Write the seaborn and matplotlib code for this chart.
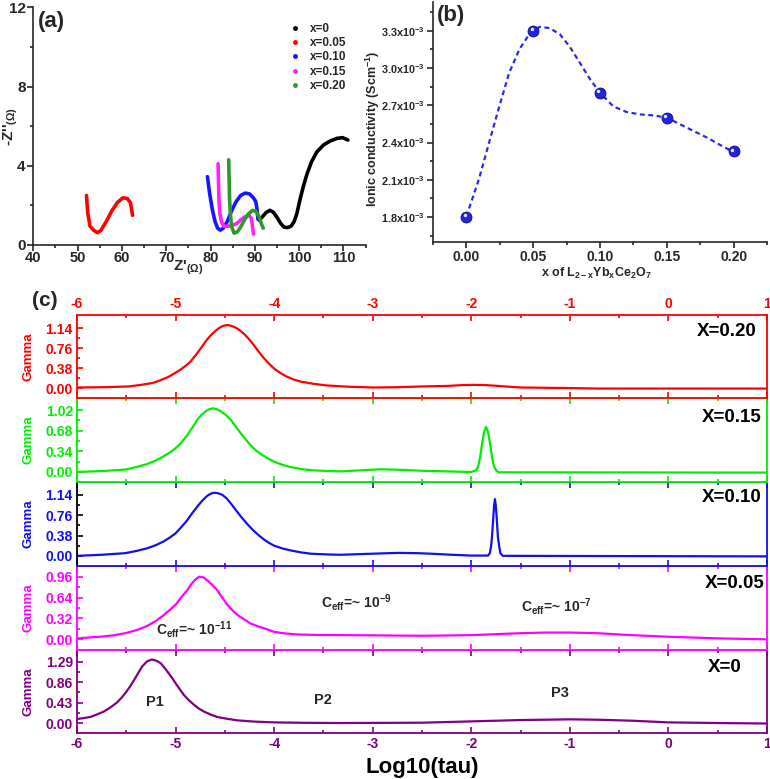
import numpy as np
import matplotlib
matplotlib.use("Agg")
import matplotlib.pyplot as plt
import matplotlib.transforms as mtransforms
from matplotlib.lines import Line2D
from matplotlib.ticker import MultipleLocator, FixedLocator, FuncFormatter
import seaborn as sns

# ── (a) Nyquist plots ─────────────────────────────────────────────────────────
nyq_labels = ["x=0", "x=0.05", "x=0.10", "x=0.15", "x=0.20"]
nyq_colors = ["black", "#ff0000", "#1515ff", "#ff22ff", "#2a9a2a"]

zre_000 = [91.0, 91.8, 92.6, 93.4, 94.2, 95.0, 95.8, 96.6, 97.4, 98.2, 98.9, 99.5, 100.2,
           101.0, 101.8, 102.8, 104.0, 105.5, 107.0, 108.5, 109.8, 110.5, 111.0]
zim_000 = [1.25, 1.45, 1.65, 1.75, 1.65, 1.4, 1.1, 0.9, 0.88, 0.95, 1.2, 1.6, 2.3,
           3.0, 3.6, 4.2, 4.7, 5.05, 5.25, 5.38, 5.42, 5.35, 5.3]
zre_005 = [52.0, 52.3, 52.8, 53.6, 54.5, 55.3, 56.5, 57.8, 59.0, 60.2, 61.2, 61.9, 62.2, 62.4]
zim_005 = [2.5, 1.6, 0.95, 0.75, 0.62, 0.75, 1.2, 1.75, 2.15, 2.38, 2.35, 2.15, 1.8, 1.5]
zre_010 = [79.3, 79.8, 80.4, 81.0, 81.6, 82.2, 82.9, 83.8, 84.8, 85.8, 86.8, 87.8, 88.8,
           89.6, 90.2, 90.5, 90.7]
zim_010 = [3.45, 2.6, 1.8, 1.2, 0.85, 0.75, 0.85, 1.2, 1.75, 2.2, 2.5, 2.62, 2.58,
           2.4, 2.2, 1.8, 1.3]
zre_015 = [81.7, 81.8, 81.9, 82.1, 82.5, 83.0, 84.0, 85.0, 86.0, 87.0, 88.0, 88.7, 89.2,
           89.4, 89.6, 89.7]
zim_015 = [4.1, 3.2, 2.3, 1.6, 1.15, 0.95, 0.95, 1.0, 1.1, 1.3, 1.45, 1.5, 1.35,
           1.05, 0.7, 0.55]
zre_020 = [84.1, 84.2, 84.3, 84.5, 84.8, 85.3, 86.0, 86.8, 87.6, 88.5, 89.5, 90.3, 91.0,
           91.5, 91.9]
zim_020 = [4.3, 3.3, 2.3, 1.5, 0.9, 0.6, 0.65, 0.9, 1.25, 1.55, 1.75, 1.7, 1.4,
           1.05, 0.85]

# ── (b) ionic conductivity ───────────────────────────────────────────────────
x_dop = [0.00, 0.05, 0.10, 0.15, 0.20]
sigma = [1.80e-3, 3.30e-3, 2.80e-3, 2.60e-3, 2.33e-3]
fit_x = [0.002, 0.0095, 0.017, 0.0246, 0.032, 0.0397, 0.047, 0.0548, 0.0623, 0.070,
         0.0774, 0.085, 0.0925, 0.100, 0.110, 0.120, 0.130, 0.140, 0.150, 0.160,
         0.170, 0.180, 0.190, 0.197]
fit_y = [1.87e-3, 2.11e-3, 2.40e-3, 2.69e-3, 2.96e-3, 3.15e-3, 3.27e-3, 3.33e-3, 3.32e-3,
         3.27e-3, 3.17e-3, 3.04e-3, 2.91e-3, 2.80e-3, 2.69e-3, 2.645e-3, 2.626e-3,
         2.618e-3, 2.60e-3, 2.546e-3, 2.493e-3, 2.44e-3, 2.38e-3, 2.34e-3]
sig_ticks = [1.8e-3, 2.1e-3, 2.4e-3, 2.7e-3, 3.0e-3, 3.3e-3]

# ── (c) DRT curves ────────────────────────────────────────────────────────────
tau_020 = [-6.0, -5.75, -5.475, -5.35, -5.225, -5.15, -5.075, -5.01, -4.95, -4.90,
           -4.85, -4.79, -4.735, -4.69, -4.645, -4.60, -4.56, -4.52, -4.475, -4.43,
           -4.39, -4.35, -4.305, -4.26, -4.215, -4.16, -4.10, -4.05, -4.0, -3.94,
           -3.875, -3.80, -3.725, -3.60, -3.475, -3.25, -3.0, -2.75, -2.5, -2.24,
           -2.1, -1.97, -1.85, -1.73, -1.5, -1.05, -0.72, 0.0, 1.0]
gam_020 = [0.01, 0.015, 0.03, 0.06, 0.10, 0.15, 0.21, 0.28, 0.35, 0.42,
           0.50, 0.64, 0.78, 0.90, 1.00, 1.08, 1.14, 1.18, 1.20, 1.18,
           1.15, 1.10, 1.03, 0.94, 0.84, 0.70, 0.56, 0.46, 0.37, 0.29,
           0.22, 0.16, 0.12, 0.08, 0.05, 0.025, 0.01, 0.015, 0.03, 0.04,
           0.055, 0.06, 0.055, 0.04, 0.01, 0.0, -0.01, -0.01, -0.01]
tau_015 = [-6.0, -5.75, -5.51, -5.40, -5.29, -5.20, -5.12, -5.06, -5.0, -4.94,
           -4.88, -4.83, -4.78, -4.74, -4.695, -4.66, -4.62, -4.58, -4.54, -4.49,
           -4.44, -4.39, -4.34, -4.29, -4.24, -4.18, -4.12, -4.06, -4.0, -3.92,
           -3.83, -3.73, -3.63, -3.45, -3.32, -3.1, -2.92, -2.7, -2.5, -2.2,
           -2.0, -1.95, -1.93, -1.91, -1.89, -1.87, -1.85, -1.83, -1.81, -1.79,
           -1.77, -1.745, -1.72, 1.0]
gam_015 = [0.0, 0.015, 0.04, 0.08, 0.13, 0.19, 0.26, 0.32, 0.39, 0.49,
           0.61, 0.73, 0.86, 0.94, 1.00, 1.035, 1.05, 1.035, 1.00, 0.94,
           0.86, 0.75, 0.64, 0.54, 0.44, 0.35, 0.28, 0.22, 0.17, 0.12,
           0.08, 0.05, 0.03, 0.015, 0.01, 0.03, 0.045, 0.035, 0.02, 0.008,
           0.0, 0.03, 0.09, 0.25, 0.47, 0.66, 0.745, 0.66, 0.47, 0.25,
           0.09, 0.02, -0.005, -0.01]
tau_010 = [-6.0, -5.75, -5.51, -5.40, -5.29, -5.20, -5.12, -5.06, -5.0, -4.94,
           -4.88, -4.83, -4.78, -4.73, -4.68, -4.645, -4.61, -4.57, -4.525, -4.48,
           -4.44, -4.39, -4.34, -4.28, -4.22, -4.16, -4.10, -4.05, -4.0, -3.92,
           -3.83, -3.73, -3.63, -3.45, -3.32, -3.0, -2.75, -2.55, -2.41, -2.2,
           -2.0, -1.83, -1.812, -1.80, -1.79, -1.776, -1.768, -1.76, -1.752, -1.743,
           -1.73, -1.716, -1.705, -1.68, 1.0]
gam_010 = [0.0, 0.02, 0.05, 0.09, 0.14, 0.20, 0.27, 0.34, 0.42, 0.54,
           0.67, 0.80, 0.92, 1.03, 1.12, 1.16, 1.18, 1.17, 1.14, 1.07,
           0.98, 0.86, 0.74, 0.61, 0.49, 0.39, 0.30, 0.24, 0.19, 0.14,
           0.10, 0.065, 0.04, 0.025, 0.02, 0.04, 0.055, 0.05, 0.04, 0.02,
           0.005, 0.005, 0.05, 0.17, 0.35, 0.735, 0.95, 1.06, 0.95, 0.735,
           0.35, 0.17, 0.05, 0.0, -0.01]
tau_005 = [-6.0, -5.86, -5.73, -5.62, -5.51, -5.40, -5.29, -5.20, -5.12, -5.06,
           -5.0, -4.94, -4.88, -4.84, -4.80, -4.76, -4.72, -4.68, -4.63, -4.58,
           -4.53, -4.475, -4.42, -4.37, -4.30, -4.24, -4.17, -4.10, -4.0, -3.88,
           -3.76, -3.55, -3.32, -3.0, -2.5, -2.0, -1.5, -1.26, -1.0, -0.72,
           -0.38, 0.0, 0.5, 1.0]
gam_005 = [0.01, 0.025, 0.04, 0.06, 0.09, 0.135, 0.20, 0.28, 0.37, 0.45,
           0.53, 0.65, 0.76, 0.85, 0.92, 0.965, 0.955, 0.91, 0.84, 0.76,
           0.65, 0.53, 0.44, 0.37, 0.30, 0.24, 0.20, 0.165, 0.11, 0.085,
           0.07, 0.063, 0.06, 0.057, 0.05, 0.06, 0.09, 0.10, 0.10, 0.09,
           0.06, 0.035, 0.01, -0.005]
tau_000 = [-6.0, -5.93, -5.86, -5.80, -5.73, -5.66, -5.59, -5.55, -5.51, -5.465,
           -5.42, -5.38, -5.34, -5.29, -5.24, -5.19, -5.15, -5.11, -5.07, -5.035,
           -5.0, -4.96, -4.915, -4.865, -4.81, -4.76, -4.71, -4.645, -4.58, -4.48,
           -4.37, -4.2, -4.0, -3.7, -3.32, -2.5, -2.0, -1.5, -1.0, -0.72,
           -0.38, 0.0, 0.5, 1.0]
gam_000 = [0.085, 0.105, 0.13, 0.18, 0.24, 0.33, 0.44, 0.53, 0.63, 0.76,
           0.91, 1.05, 1.19, 1.30, 1.34, 1.31, 1.26, 1.16, 1.05, 0.95,
           0.84, 0.72, 0.59, 0.48, 0.38, 0.30, 0.24, 0.18, 0.13, 0.09,
           0.056, 0.03, 0.014, 0.005, 0.0, 0.007, 0.035, 0.063, 0.078, 0.07,
           0.05, 0.014, 0.0, -0.01]

drt_labels = ["X=0.20", "X=0.15", "X=0.10", "X=0.05", "X=0"]
drt_colors = ["#ff0000", "#00ee00", "#1010f0", "#ff00ff", "#800080"]
drt_ticks = [[0.00, 0.38, 0.76, 1.14], [0.00, 0.34, 0.68, 1.02], [0.00, 0.38, 0.76, 1.14],
             [0.00, 0.32, 0.64, 0.96], [0.00, 0.43, 0.86, 1.29]]
drt_ylims = [(-0.19, 1.39), (-0.165, 1.22), (-0.19, 1.38), (-0.17, 1.13), (-0.21, 1.54)]

# ── Style ─────────────────────────────────────────────────────────────────────
sns.set_style("ticks")
plt.rcParams.update({
    "font.family": ["Liberation Sans", "DejaVu Sans"],
    "font.weight": "bold",
    "axes.labelweight": "bold",
    "axes.unicode_minus": False,
    "mathtext.fontset": "custom",
    "mathtext.rm": "Liberation Sans:bold",
    "mathtext.it": "Liberation Sans:bold",
    "mathtext.bf": "Liberation Sans:bold",
    "mathtext.sf": "Liberation Sans:bold",
    "mathtext.default": "rm",
    "lines.solid_joinstyle": "round",
})

W, H = 770, 779
fig = plt.figure(figsize=(W / 100, H / 100), dpi=100)


def box(l, t, r, b):
    return [l / W, 1 - b / H, (r - l) / W, (b - t) / H]


# ── Panel (a) ─────────────────────────────────────────────────────────────────
ax_a = fig.add_axes(box(33.3, 7.3, 365.6, 245))
nyq = [(zre_000, zim_000), (zre_005, zim_005), (zre_010, zim_010),
       (zre_015, zim_015), (zre_020, zim_020)]
for (zr, zi), c in zip(nyq, nyq_colors):
    sns.lineplot(x=zr, y=zi, ax=ax_a, color=c, lw=2.6, sort=False, estimator=None)
ax_a.set_xlim(40, 115)
ax_a.set_ylim(0, 12)
ax_a.xaxis.set_major_locator(MultipleLocator(10))
ax_a.xaxis.set_minor_locator(MultipleLocator(5))
ax_a.yaxis.set_major_locator(MultipleLocator(4))
ax_a.yaxis.set_minor_locator(MultipleLocator(2))
ax_a.tick_params(which="both", direction="out", labelsize=11, width=1.2, pad=1.5)
ax_a.tick_params(axis="x", labelsize=10.5, pad=0.5)
ax_a.tick_params(which="major", length=4)
ax_a.tick_params(which="minor", length=2.5)
for s in ax_a.spines.values():
    s.set_linewidth(1.2)
sns.despine(ax=ax_a)
ax_a.set_xlabel(r"Z'$_{(\Omega)}$", fontsize=11)
ax_a.set_ylabel(r"-Z''$_{(\Omega)}$", fontsize=11)
ax_a.xaxis.set_label_coords(0.466, -0.058)
ax_a.yaxis.set_label_coords(-0.04, 0.5)
handles = [Line2D([], [], ls="", marker="o", ms=2.5, color=c) for c in nyq_colors]
ax_a.legend(handles, nyq_labels, loc="upper left", bbox_to_anchor=(0.755, 0.96),
            frameon=False, prop={"weight": "bold", "size": 8.5},
            handlelength=0.8, handletextpad=0.9, labelspacing=0.2, borderpad=0)

# ── Panel (b) ─────────────────────────────────────────────────────────────────
ax_b = fig.add_axes(box(433, 2, 767, 242))
sns.lineplot(x=fit_x, y=fit_y, ax=ax_b, color="#2a2ae8", lw=1.6, sort=False,
             estimator=None, linestyle=(0, (2.2, 1.6)))
sns.scatterplot(x=x_dop, y=sigma, ax=ax_b, s=62, color="#2323e0",
                edgecolor="#0c0c80", linewidth=0.6, zorder=5)
hl = mtransforms.offset_copy(ax_b.transData, fig=fig, x=-1.2, y=1.2, units="points")
ax_b.scatter(x_dop, sigma, s=6, color="white", alpha=0.9, zorder=6, transform=hl,
             linewidths=0)
ax_b.set_xlim(-0.025, 0.225)
ax_b.set_ylim(1.6e-3, 3.53e-3)
ax_b.xaxis.set_major_locator(MultipleLocator(0.05))
ax_b.xaxis.set_minor_locator(MultipleLocator(0.025))
ax_b.xaxis.set_major_formatter(FuncFormatter(lambda v, p: f"{v:.2f}"))
ax_b.yaxis.set_major_locator(FixedLocator(sig_ticks))
ax_b.yaxis.set_minor_locator(MultipleLocator(0.15e-3))
ax_b.yaxis.set_major_formatter(
    FuncFormatter(lambda v, p: f"{v * 1e3:.1f}x10$^{{-3}}$"))
ax_b.tick_params(which="both", direction="out", width=1.2)
ax_b.tick_params(axis="x", labelsize=10, pad=1.5)
ax_b.tick_params(axis="y", labelsize=7.8, pad=2)
ax_b.tick_params(which="major", length=4)
ax_b.tick_params(which="minor", length=2.5)
for s in ax_b.spines.values():
    s.set_linewidth(1.2)
sns.despine(ax=ax_b)
ax_b.set_xlabel(r"x of L$_{2-x}$Yb$_x$Ce$_2$O$_7$", fontsize=9)
ax_b.set_ylabel(r"Ionic conductivity (Scm$^{-1}$)", fontsize=9)
ax_b.xaxis.set_label_coords(0.49, -0.1)
ax_b.yaxis.set_label_coords(-0.152, 0.47)

# ── Panel (c) ─────────────────────────────────────────────────────────────────
drt = [(tau_020, gam_020), (tau_015, gam_015), (tau_010, gam_010),
       (tau_005, gam_005), (tau_000, gam_000)]
edges = [315, 398, 482, 566, 650, 733]
label_left = [697, 702, 702, 705, 708]
label_y = [0.80, 0.77, 0.81, 0.79, 0.79]
axes_c = []
for i, ((tau, gam), c) in enumerate(zip(drt, drt_colors)):
    ax = fig.add_axes(box(77, edges[i], 767, edges[i + 1]))
    ax.set_zorder(10 - i)
    axes_c.append(ax)
    sns.lineplot(x=tau, y=gam, ax=ax, color=c, lw=1.6, sort=False, estimator=None)
    ax.set_xlim(-6, 1)
    ax.set_ylim(*drt_ylims[i])
    ax.xaxis.set_major_locator(MultipleLocator(1))
    ax.xaxis.set_minor_locator(MultipleLocator(0.5))
    t = drt_ticks[i]
    ax.yaxis.set_major_locator(FixedLocator(t))
    ax.yaxis.set_minor_locator(FixedLocator([(a + b) / 2 for a, b in zip(t[:-1], t[1:])]))
    ax.yaxis.set_major_formatter(FuncFormatter(lambda v, p: f"{v:.2f}"))
    ax.tick_params(axis="x", which="both", direction="in", top=True, bottom=True,
                   labeltop=(i == 0), labelbottom=(i == 4), color=c, labelcolor=c,
                   labelsize=10, width=1.2, pad=3)
    left_c = "black" if i == 2 else c
    ax.tick_params(axis="y", which="both", direction="in", left=True, right=False,
                   color=left_c, labelcolor=c, labelsize=10, width=1.2, pad=3)
    ax.tick_params(which="major", length=4)
    ax.tick_params(which="minor", length=2.5)
    for name, s in ax.spines.items():
        s.set_color(c)
        s.set_linewidth(1.3)
    ax.spines["left"].set_color(left_c)
    ax.set_ylabel("Gamma", color=c, fontsize=9.5)
    ax.yaxis.set_label_coords(-0.062, 0.5)
    ax.set_xlabel("")
    ax.text((label_left[i] - 77) / 690, label_y[i], drt_labels[i], transform=ax.transAxes,
            ha="left", va="center", fontsize=13.5, fontweight="bold", color="black")

axes_c[4].set_xlabel("Log10(tau)", fontsize=16, color="black")
axes_c[4].xaxis.set_label_coords(0.5, -0.29)

ax_m = axes_c[3]
ax_m.text(-4.81, 0.155, r"C$_{eff}$=~ 10$^{-11}$", ha="center", va="center", fontsize=10)
ax_m.text(-3.17, 0.57, r"C$_{eff}$=~ 10$^{-9}$", ha="center", va="center", fontsize=10)
ax_m.text(-1.14, 0.50, r"C$_{eff}$=~ 10$^{-7}$", ha="center", va="center", fontsize=10)
ax_p = axes_c[4]
ax_p.text(-5.21, 0.44, "P1", ha="center", va="center", fontsize=10.5)
ax_p.text(-3.51, 0.49, "P2", ha="center", va="center", fontsize=10.5)
ax_p.text(-1.10, 0.63, "P3", ha="center", va="center", fontsize=10.5)

fig.text(51 / W, 1 - 21 / H, "(a)", ha="center", va="center", fontsize=16, fontweight="bold")
fig.text(451 / W, 1 - 15 / H, "(b)", ha="center", va="center", fontsize=16, fontweight="bold")
fig.text(45 / W, 1 - 300 / H, "(c)", ha="center", va="center", fontsize=15, fontweight="bold")

fig.savefig("out.png", dpi=100)
